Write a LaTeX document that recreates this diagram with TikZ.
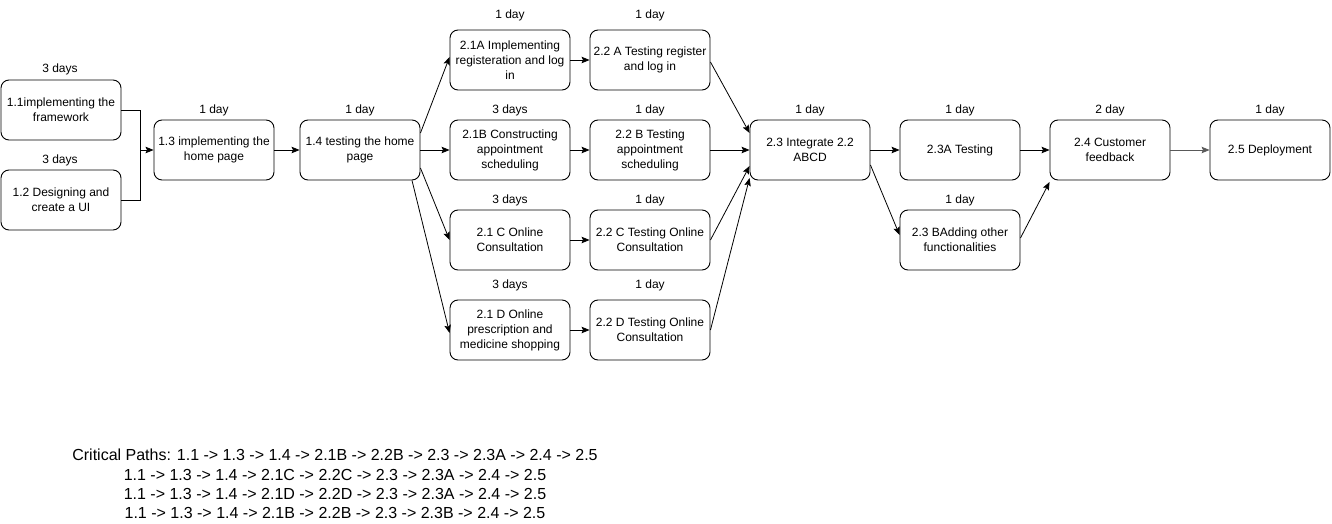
\documentclass[tikz,border=0pt]{standalone}
\usepackage{fontspec}
\setmainfont{Liberation Sans}
\usetikzlibrary{arrows.meta}
\begin{document}
\begin{tikzpicture}[x=1pt,y=-1pt,
  box/.style={draw, line width=0.9pt, rounded corners=8pt, minimum width=120pt, minimum height=60pt,
    align=center, inner sep=0pt, font=\fontsize{12}{15}\selectfont},
  lbl/.style={font=\fontsize{12}{14}\selectfont, inner sep=0pt},
  arr/.style={line width=0.8pt, -{Stealth[length=8pt,width=6.5pt,inset=1.5pt]}},
  ln/.style={line width=0.8pt}]
\useasboundingbox (0,0) rectangle (1332,524);
% nodes
\node[box] (n11) at (61,110) {1.1implementing the\\framework};
\node[box] (n12) at (61,200) {1.2 Designing and\\create a UI};
\node[box] (n13) at (214,150) {1.3 implementing the\\home page};
\node[box] (n14) at (360,150) {1.4 testing the home\\page};
\node[box] (n21a) at (510,60) {2.1A Implementing\\registeration and log\\in};
\node[box] (n22a) at (650,60) {2.2 A Testing register\\and log in};
\node[box] (n21b) at (510,150) {2.1B Constructing\\appointment\\scheduling};
\node[box] (n22b) at (650,150) {2.2 B Testing\\appointment\\scheduling};
\node[box] (n21c) at (510,240) {2.1 C Online\\Consultation};
\node[box] (n22c) at (650,240) {2.2 C Testing Online\\Consultation};
\node[box] (n21d) at (510,330) {2.1 D Online\\prescription and\\medicine shopping};
\node[box] (n22d) at (650,330) {2.2 D Testing Online\\Consultation};
\node[box] (n23) at (810,150) {2.3 Integrate 2.2\\ABCD};
\node[box] (n23a) at (960,150) {2.3A Testing};
\node[box] (n23b) at (960,240) {2.3 BAdding other\\functionalities};
\node[box] (n24) at (1110,150) {2.4 Customer\\feedback};
\node[box] (n25) at (1270,150) {2.5 Deployment};
% labels
\node[lbl] (l11) at (60,69) {3 days};
\node[lbl] (l12) at (60,160) {3 days};
\node[lbl] (l13) at (214,110) {1 day};
\node[lbl] (l14) at (360,110) {1 day};
\node[lbl] (l21a) at (510,15) {1 day};
\node[lbl] (l22a) at (650,15) {1 day};
\node[lbl] (l21b) at (510,110) {3 days};
\node[lbl] (l22b) at (650,110) {1 day};
\node[lbl] (l21c) at (510,200) {3 days};
\node[lbl] (l22c) at (650,200) {1 day};
\node[lbl] (l21d) at (510,285) {3 days};
\node[lbl] (l22d) at (650,285) {1 day};
\node[lbl] (l23) at (810,110) {1 day};
\node[lbl] (l23a) at (960,110) {1 day};
\node[lbl] (l23b) at (960,200) {1 day};
\node[lbl] (l24) at (1110,110) {2 day};
\node[lbl] (l25) at (1270,110) {1 day};
% connectors
\coordinate (j) at (140,150);
\draw[ln] (n11.east) -| (j);
\draw[ln] (n12.east) -| (j);
\draw[arr] (j) -- (n13.west);
\draw[arr] (n13) -- (n14);
\draw[arr] ([yshift=17pt]n14.east) -- ([yshift=3pt]n21a.west);
\draw[arr] (n14) -- (n21b);
\draw[arr] ([yshift=-18pt]n14.east) -- (n21c.west);
\draw[arr] ([xshift=52pt]n14.south) -- ([yshift=-3pt]n21d.west);
\draw[arr] (n21a) -- (n22a);
\draw[arr] (n21b) -- (n22b);
\draw[arr] (n21c) -- (n22c);
\draw[arr] (n21d) -- (n22d);
\draw[arr] ([yshift=-2pt]n22a.east) -- ([yshift=17pt]n23.west);
\draw[arr] (n22b) -- (n23);
\draw[arr] (n22c.east) -- ([yshift=-16pt]n23.west);
\draw[arr] (n22d.east) -- ([yshift=-28pt]n23.west);
\draw[arr] (n23) -- (n23a);
\draw[arr] ([yshift=-15pt]n23.east) -- ([yshift=5pt]n23b.west);
\draw[arr] (n23a) -- (n24);
\draw[arr] ([yshift=2pt]n23b.east) -- ([yshift=-32pt]n24.west);
\draw[arr, draw=black!65] (n24) -- (n25);
% critical paths
\node[font=\fontsize{16}{19.3}\selectfont, align=center, inner sep=0pt] (cp) at (335,484)
 {Critical Paths: 1.1 -> 1.3 -> 1.4 -> 2.1B -> 2.2B -> 2.3 -> 2.3A -> 2.4 -> 2.5\\
  1.1 -> 1.3 -> 1.4 -> 2.1C -> 2.2C -> 2.3 -> 2.3A -> 2.4 -> 2.5\\
  1.1 -> 1.3 -> 1.4 -> 2.1D -> 2.2D -> 2.3 -> 2.3A -> 2.4 -> 2.5\\
  1.1 -> 1.3 -> 1.4 -> 2.1B -> 2.2B -> 2.3 -> 2.3B -> 2.4 -> 2.5};
\end{tikzpicture}
\end{document}
